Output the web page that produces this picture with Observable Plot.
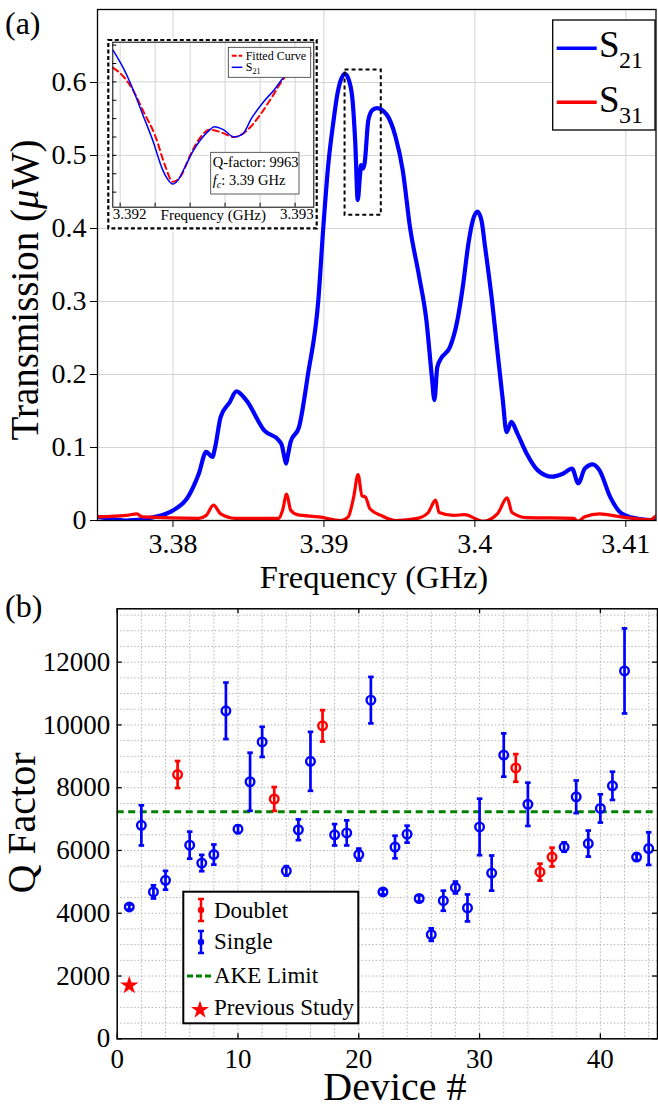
<!DOCTYPE html>
<html>
<head>
<meta charset="utf-8">
<script src="https://cdn.jsdelivr.net/npm/d3@7"></script>
<script src="https://cdn.jsdelivr.net/npm/@observablehq/plot@0.6"></script>
<style>
  body { margin: 0; background: #fff; }
  #fig { position: relative; width: 658px; height: 1108px; overflow: hidden; background: #fff; }
  #fig > div { position: absolute; }
  #fig svg, #fig svg text { font-family: "Liberation Serif", "Times New Roman", serif !important; }
</style>
</head>
<body>
<div id="fig">
  <div id="top" style="left:0;top:0"></div>
  <div id="bottom" style="left:0;top:590px"></div>
  <div id="inset" style="left:106px;top:38px"></div>
</div>
<script>
const SERIF = "'Liberation Serif', 'Times New Roman', serif";

// ---------- Panel (a): transmission spectra ----------
const s21Freq = [3.37496, 3.3760, 3.37689, 3.3780, 3.37882, 3.38002, 3.38099, 3.38171, 3.3822, 3.38261, 3.3828,
  3.38316, 3.38376, 3.3842, 3.38485, 3.38606, 3.3870, 3.3872, 3.3874, 3.3875, 3.3876, 3.3878, 3.38835, 3.38895,
  3.38963, 3.38996, 3.3903, 3.39062, 3.3909, 3.39115, 3.3914, 3.3917, 3.3919, 3.39208, 3.39224, 3.39238,
  3.39246, 3.39258, 3.3927, 3.39294, 3.3932, 3.3935, 3.39416, 3.39474, 3.39522, 3.3957, 3.39631, 3.39679,
  3.39715, 3.39732, 3.39751, 3.39776, 3.39836, 3.39884, 3.3992, 3.39957, 3.39985, 3.40017, 3.40045, 3.40065,
  3.40113, 3.40149, 3.40185, 3.4021, 3.40241, 3.40282, 3.40342, 3.40415, 3.40511, 3.40583, 3.40644, 3.40685,
  3.40728, 3.40781, 3.40825, 3.40897, 3.4097, 3.41066, 3.41211];
const s21Val = [0.005, 0.002, 0.0, 0.002, 0.005, 0.014, 0.032, 0.064, 0.094, 0.087, 0.101,
  0.142, 0.162, 0.177, 0.165, 0.123, 0.110, 0.104, 0.085, 0.078, 0.088, 0.108, 0.128, 0.201,
  0.302, 0.402, 0.49, 0.545, 0.585, 0.605, 0.612, 0.600, 0.575, 0.516, 0.439, 0.470,
  0.487, 0.482, 0.490, 0.548, 0.562, 0.565, 0.556, 0.526, 0.480, 0.402, 0.334, 0.274,
  0.197, 0.165, 0.210, 0.222, 0.238, 0.274, 0.320, 0.379, 0.410, 0.423, 0.410, 0.379,
  0.302, 0.233, 0.165, 0.121, 0.135, 0.119, 0.092, 0.069, 0.060, 0.064, 0.071, 0.051,
  0.071, 0.077, 0.069, 0.032, 0.010, 0.003, 0.0];

const s31Freq = [3.375, 3.3769, 3.37761, 3.37797, 3.3817, 3.3822, 3.38268, 3.38316, 3.38412, 3.38702, 3.38726,
  3.38753, 3.3878, 3.38823, 3.38967, 3.39112, 3.39161, 3.39197, 3.39226, 3.39252, 3.39276, 3.39305, 3.39378,
  3.39474, 3.39619, 3.39691, 3.3974, 3.39763, 3.3986, 3.39932, 3.40053, 3.40149, 3.40214, 3.40246, 3.40342,
  3.40656, 3.4068, 3.40728, 3.40825, 3.4097, 3.41162, 3.4118, 3.412];
const s31Val = [0.005, 0.007, 0.009, 0.005, 0.003, 0.007, 0.021, 0.009, 0.003, 0.003, 0.014,
  0.036, 0.014, 0.008, 0.005, 0.0, 0.005, 0.032, 0.063, 0.034, 0.032, 0.016, 0.007,
  0.0, 0.003, 0.011, 0.028, 0.011, 0.007, 0.008, -0.001, 0.009, 0.031, 0.011, 0.004,
  0.003, -0.001, 0.005, 0.009, 0.005, 0.001, 0.003, 0.006];

const freqTicks = [3.38, 3.39, 3.40, 3.41];
const freqTickLabels = ["3.38", "3.39", "3.4", "3.41"];
const transTicks = [0, 0.1, 0.2, 0.3, 0.4, 0.5, 0.6];
const transTickLabels = ["0", "0.1", "0.2", "0.3", "0.4", "0.5", "0.6"];
// region magnified in the inset
const zoomWindow = {f1: 3.3914, f2: 3.3938, v1: 0.418, v2: 0.617};

// ---------- Inset: resonance fit ----------
const insetFreq = [3.39196, 3.39202, 3.39208, 3.39213, 3.39219, 3.39224, 3.39227, 3.3923, 3.39233, 3.39237,
  3.39242, 3.3925, 3.39254, 3.39259, 3.39265, 3.3927, 3.39275, 3.39282, 3.39288, 3.39293, 3.39301, 3.39309];
const insetS21 = [0.643, 0.618, 0.586, 0.555, 0.518, 0.482, 0.468, 0.461, 0.466, 0.484,
  0.507, 0.532, 0.539, 0.535, 0.525, 0.529, 0.550, 0.573, 0.589, 0.605, 0.623, 0.639];
const fitFreq = [3.39196, 3.39202, 3.39208, 3.39213, 3.3922, 3.39226, 3.3923, 3.39235, 3.3924, 3.39246,
  3.39251, 3.39257, 3.39265, 3.39273, 3.3928, 3.39288, 3.39293, 3.39301, 3.39309];
const fitVal = [0.619, 0.607, 0.586, 0.561, 0.527, 0.484, 0.464, 0.473, 0.500, 0.525,
  0.535, 0.532, 0.525, 0.535, 0.555, 0.584, 0.603, 0.620, 0.636];
const insetFreqTicks = [3.392, 3.3922, 3.3924, 3.3926, 3.3928, 3.393];
const insetTickLabels = ["3.392", "3.393"];
const insetLevelTicks = [0.5, 0.6];
const insetMinorTicks = [0.45, 0.475, 0.5, 0.525, 0.55, 0.575, 0.6, 0.625, 0.65];
const qFactorText = "Q-factor: 9963";
const centerFreqText = ": 3.39 GHz";

// ---------- Panel (b): Q factor per device ----------
const singleDevice = [1, 2, 3, 4, 6, 7, 8, 9, 10, 11, 12, 14, 15, 16, 18, 19, 20, 21, 22, 23,
  24, 25, 26, 27, 28, 29, 30, 31, 32, 34, 37, 38, 39, 40, 41, 42, 43, 44];
const singleQ = [4200, 6800, 4680, 5050, 6170, 5600, 5870, 10450, 6680, 8190, 9460, 5350, 6660, 8840, 6500, 6560, 5870, 10790, 4680, 6110,
  6520, 4470, 3320, 4400, 4820, 4170, 6750, 5280, 9040, 7470, 6110, 7710, 6220, 7340, 8060, 11720, 5790, 6060];
const singleErr = [80, 640, 210, 300, 430, 260, 320, 900, 120, 925, 480, 150, 330, 940, 340, 400, 190, 740, 80, 360,
  270, 100, 200, 320, 190, 430, 900, 560, 690, 690, 150, 520, 415, 450, 450, 1355, 100, 520];
const doubletDevice = [5, 13, 17, 33, 35, 36];
const doubletQ = [8420, 7640, 9970, 8630, 5310, 5790];
const doubletErr = [430, 380, 500, 440, 270, 300];
const previousDevice = [1];
const previousQ = [1700];
const akeLimit = 7230;
const deviceTicks = [0, 10, 20, 30, 40];
const deviceTickLabels = ["0", "10", "20", "30", "40"];
const qTicks = [0, 2000, 4000, 6000, 8000, 10000, 12000];
const qTickLabels = ["0", "2000", "4000", "6000", "8000", "10000", "12000"];
const legendItems = ["Doublet", "Single", "AKE Limit", "Previous Study"];

const BLUE = "#0000ff", RED = "#ff0000", GREEN = "#008000";

// ===== Panel (a) =====
const s21 = s21Freq.map((f, i) => ({f, v: s21Val[i]}));
const s31 = s31Freq.map((f, i) => ({f, v: s31Val[i]}));

const topPlot = Plot.plot({
  width: 658, height: 590,
  marginLeft: 97, marginRight: 2.5, marginTop: 9, marginBottom: 70,
  style: {fontFamily: SERIF, fontSize: "28px", background: "transparent", color: "black", overflow: "visible"},
  x: {domain: [3.375, 3.412]},
  y: {domain: [0, 0.7]},
  marks: [
    Plot.gridX(freqTicks, {stroke: "#d4d4d4", strokeOpacity: 1, strokeWidth: 1}),
    Plot.gridY(transTicks, {stroke: "#d4d4d4", strokeOpacity: 1, strokeWidth: 1}),
    Plot.line(s21, {x: "f", y: "v", stroke: BLUE, strokeWidth: 4.2, curve: "monotone-x", clip: true}),
    Plot.line(s31, {x: "f", y: "v", stroke: RED, strokeWidth: 3.2, curve: "monotone-x", clip: true}),
    Plot.rect([zoomWindow], {x1: "f1", x2: "f2", y1: "v1", y2: "v2", fill: "none", stroke: "black",
      strokeWidth: 2, strokeDasharray: "4,3"}),
    Plot.frame({stroke: "black", strokeWidth: 1.3}),
    Plot.axisX(freqTicks, {tickSize: 7, tickPadding: 6, fontSize: 28, label: null,
      tickFormat: d => freqTickLabels[freqTicks.indexOf(d)]}),
    Plot.axisY(transTicks, {tickSize: 7, tickPadding: 4, fontSize: 28, label: null,
      tickFormat: d => transTickLabels[transTicks.indexOf(d)]})
  ]
});
document.getElementById("top").appendChild(topPlot);

{
  const svg = d3.select(topPlot);
  svg.append("text").attr("x", 5).attr("y", 34).attr("text-anchor", "start")
    .attr("font-size", 32).text("(a)");
  const yt = svg.append("text").attr("transform", "translate(38,290) rotate(-90)")
    .attr("text-anchor", "middle").attr("font-size", 39);
  yt.append("tspan").text("Transmission (");
  yt.append("tspan").attr("font-style", "italic").text("\u03bc");
  yt.append("tspan").text("W)");
  svg.append("text").attr("x", 374).attr("y", 588).attr("text-anchor", "middle")
    .attr("font-size", 32.5).text("Frequency (GHz)");

  // legend
  const lg = svg.append("g").attr("text-anchor", "start");
  lg.append("rect").attr("x", 552.7).attr("y", 20).attr("width", 102.3).attr("height", 110)
    .attr("fill", "white").attr("stroke", "black").attr("stroke-width", 1.3);
  [[BLUE, "21", 48.3, 56.7], [RED, "31", 102.3, 111.7]].forEach(([c, sub, ly, by]) => {
    lg.append("line").attr("x1", 556.7).attr("x2", 596.7).attr("y1", ly).attr("y2", ly)
      .attr("stroke", c).attr("stroke-width", 3.5);
    lg.append("text").attr("x", 599).attr("y", by).attr("font-size", 37).text("S");
    lg.append("text").attr("x", 619).attr("y", by + 11.6).attr("font-size", 24).text(sub);
  });
}

// ===== Inset =====
const insetBlue = insetFreq.map((f, i) => ({f, v: insetS21[i]}));
const insetFit = fitFreq.map((f, i) => ({f, v: fitVal[i]}));
const insetW = 213, insetH = 193;
const iml = 6.3, imr = 5.7, imt = 3.7, imb = 24.3;
const iInnerW = insetW - iml - imr, iInnerH = insetH - imt - imb;

const insetPlot = Plot.plot({
  width: insetW, height: insetH,
  marginLeft: iml, marginRight: imr, marginTop: imt, marginBottom: imb,
  style: {fontFamily: SERIF, fontSize: "15px", background: "white", color: "black", overflow: "visible"},
  x: {domain: [3.391958, 3.393107], axis: null},
  y: {domain: [0.4295, 0.654], axis: null},
  marks: [
    Plot.gridX(insetFreqTicks, {stroke: "#d4d4d4", strokeOpacity: 1}),
    Plot.gridY(insetLevelTicks, {stroke: "#d4d4d4", strokeOpacity: 1}),
    Plot.line(insetFit, {x: "f", y: "v", stroke: RED, strokeWidth: 2, strokeDasharray: "6,4", curve: "monotone-x", clip: true}),
    Plot.line(insetBlue, {x: "f", y: "v", stroke: BLUE, strokeWidth: 1.5, curve: "monotone-x", clip: true}),
    Plot.ruleX(insetFreqTicks, {x: d => d, insetTop: iInnerH - 4, stroke: "black"}),
    Plot.ruleY(insetMinorTicks, {y: d => d, insetRight: iInnerW - 4, stroke: "black"}),
    Plot.frame({stroke: "black", strokeWidth: 1}),
    Plot.text([insetTickLabels[0]], {frameAnchor: "bottom-left", textAnchor: "start", lineAnchor: "top", dy: 1, fontSize: 15}),
    Plot.text([insetTickLabels[1]], {frameAnchor: "bottom-right", textAnchor: "end", lineAnchor: "top", dy: 1, fontSize: 15}),
    Plot.text(["Frequency (GHz)"], {frameAnchor: "bottom", lineAnchor: "top", dy: 2, fontSize: 15})
  ]
});
document.getElementById("inset").appendChild(insetPlot);

{
  const svg = d3.select(insetPlot);
  svg.append("rect").attr("x", 2.3).attr("y", 2).attr("width", 208.4).attr("height", 188.3)
    .attr("fill", "none").attr("stroke", "black").attr("stroke-width", 2.2).attr("stroke-dasharray", "4,2.5");
  const lg = svg.append("g").attr("text-anchor", "start");
  lg.append("rect").attr("x", 122.3).attr("y", 9.3).attr("width", 82.4).attr("height", 30)
    .attr("fill", "white").attr("stroke", "#333").attr("stroke-width", 0.8);
  lg.append("line").attr("x1", 125.7).attr("x2", 136.3).attr("y1", 17.7).attr("y2", 17.7)
    .attr("stroke", RED).attr("stroke-width", 2).attr("stroke-dasharray", "5,2");
  lg.append("text").attr("x", 139.7).attr("y", 21.5).attr("font-size", 12).text("Fitted Curve");
  lg.append("line").attr("x1", 125.7).attr("x2", 136.3).attr("y1", 29.3).attr("y2", 29.3)
    .attr("stroke", BLUE).attr("stroke-width", 1.5);
  lg.append("text").attr("x", 139.7).attr("y", 33).attr("font-size", 12).text("S");
  lg.append("text").attr("x", 146.5).attr("y", 35.5).attr("font-size", 8).text("21");

  const qb = svg.append("g").attr("text-anchor", "start");
  qb.append("rect").attr("x", 104.7).attr("y", 114.3).attr("width", 88.3).attr("height", 41.7)
    .attr("fill", "white").attr("stroke", "#333").attr("stroke-width", 0.8);
  qb.append("text").attr("x", 106.8).attr("y", 128.5).attr("font-size", 14.5).text(qFactorText);
  const fc = qb.append("text").attr("x", 106.8).attr("y", 146.5).attr("font-size", 14.5);
  fc.append("tspan").attr("font-style", "italic").text("f");
  fc.append("tspan").attr("font-style", "italic").attr("font-size", 10).attr("dy", 3).text("c");
  fc.append("tspan").attr("dy", -3).text(centerFreqText);
}

// ===== Panel (b) =====
const singles = singleDevice.map((d, i) => ({device: d, q: singleQ[i], err: singleErr[i]}));
const doublets = doubletDevice.map((d, i) => ({device: d, q: doubletQ[i], err: doubletErr[i]}));
const previous = previousDevice.map((d, i) => ({device: d, q: previousQ[i]}));

const botH = 518, bml = 116.7, bmr = 1, bmt = 18.3, bmb = 69.7;
const bInnerW = 658 - bml - bmr, bInnerH = botH - bmt - bmb;
const CAP = 0.23;
const GRID = {stroke: "#b4b4b4", strokeOpacity: 1, strokeWidth: 1, strokeDasharray: "1.5,2"};

function errorMarks(rows, color) {
  return [
    Plot.ruleX(rows, {x: "device", y1: d => d.q - d.err, y2: d => d.q + d.err, stroke: color, strokeWidth: 2.7}),
    Plot.link(rows, {x1: d => d.device - CAP, x2: d => d.device + CAP, y1: d => d.q + d.err, y2: d => d.q + d.err, stroke: color, strokeWidth: 2.7}),
    Plot.link(rows, {x1: d => d.device - CAP, x2: d => d.device + CAP, y1: d => d.q - d.err, y2: d => d.q - d.err, stroke: color, strokeWidth: 2.7}),
    Plot.dot(rows, {x: "device", y: "q", r: 4.3, stroke: color, strokeWidth: 2.4, fill: "none"})
  ];
}

const botPlot = Plot.plot({
  width: 658, height: botH,
  marginLeft: bml, marginRight: bmr, marginTop: bmt, marginBottom: bmb,
  style: {fontFamily: SERIF, fontSize: "27px", background: "transparent", color: "black", overflow: "visible"},
  x: {domain: [0, 44.73]},
  y: {domain: [0, 13700]},
  marks: [
    Plot.gridX(d3.range(0, 45, 2), GRID),
    Plot.gridY(d3.range(0, 14000, 500), GRID),
    Plot.ruleY([akeLimit], {stroke: GREEN, strokeWidth: 3, strokeDasharray: "7,4.5"}),
    ...errorMarks(singles, BLUE),
    ...errorMarks(doublets, RED),
    Plot.dot(previous, {x: "device", y: "q", symbol: "star", r: 5.8, fill: RED, stroke: "none"}),
    Plot.ruleX(deviceTicks, {x: d => d, insetTop: bInnerH - 5, stroke: "black", strokeWidth: 1.3}),
    Plot.ruleX(deviceTicks, {x: d => d, insetBottom: bInnerH - 5, stroke: "black", strokeWidth: 1.3}),
    Plot.ruleY(qTicks, {y: d => d, insetRight: bInnerW - 5, stroke: "black", strokeWidth: 1.3}),
    Plot.ruleY(qTicks, {y: d => d, insetLeft: bInnerW - 5, stroke: "black", strokeWidth: 1.3}),
    Plot.frame({stroke: "black", strokeWidth: 1.5}),
    Plot.axisX(deviceTicks, {tickSize: 0, tickPadding: 10, fontSize: 27, label: null,
      tickFormat: d => deviceTickLabels[deviceTicks.indexOf(d)]}),
    Plot.axisY(qTicks, {tickSize: 0, tickPadding: 7, fontSize: 27, label: null,
      tickFormat: d => qTickLabels[qTicks.indexOf(d)]})
  ]
});
document.getElementById("bottom").appendChild(botPlot);

{
  const svg = d3.select(botPlot);
  svg.append("text").attr("x", 5).attr("y", 27).attr("text-anchor", "start")
    .attr("font-size", 32).text("(b)");
  svg.append("text").attr("transform", "translate(35,233) rotate(-90)").attr("text-anchor", "middle")
    .attr("font-size", 40).text("Q Factor");
  svg.append("text").attr("x", 395).attr("y", 510).attr("text-anchor", "middle")
    .attr("font-size", 40).text("Device #");

  // legend
  const lg = svg.append("g").attr("text-anchor", "start").attr("font-size", 23);
  lg.append("rect").attr("x", 183.3).attr("y", 301.7).attr("width", 175).attr("height", 131.6)
    .attr("fill", "white").attr("stroke", "black").attr("stroke-width", 2);
  const sx = 201, tx = 214;
  [[RED, 320], [BLUE, 352]].forEach(([c, cy]) => {
    lg.append("line").attr("x1", sx).attr("x2", sx).attr("y1", cy - 11).attr("y2", cy + 11).attr("stroke", c).attr("stroke-width", 2.5);
    lg.append("line").attr("x1", sx - 3).attr("x2", sx + 3).attr("y1", cy - 11).attr("y2", cy - 11).attr("stroke", c).attr("stroke-width", 2.5);
    lg.append("line").attr("x1", sx - 3).attr("x2", sx + 3).attr("y1", cy + 11).attr("y2", cy + 11).attr("stroke", c).attr("stroke-width", 2.5);
    lg.append("circle").attr("cx", sx).attr("cy", cy).attr("r", 3.2).attr("fill", c);
  });
  lg.append("line").attr("x1", 187).attr("x2", 213).attr("y1", 386).attr("y2", 386)
    .attr("stroke", GREEN).attr("stroke-width", 3).attr("stroke-dasharray", "6,3");
  lg.append("path").attr("d", d3.symbol(d3.symbolStar).size(101)()).attr("transform", "translate(200,420)").attr("fill", RED);
  [328, 359.3, 393.3, 425].forEach((by, i) => {
    lg.append("text").attr("x", tx).attr("y", by).text(legendItems[i]);
  });
}
</script>
</body>
</html>
